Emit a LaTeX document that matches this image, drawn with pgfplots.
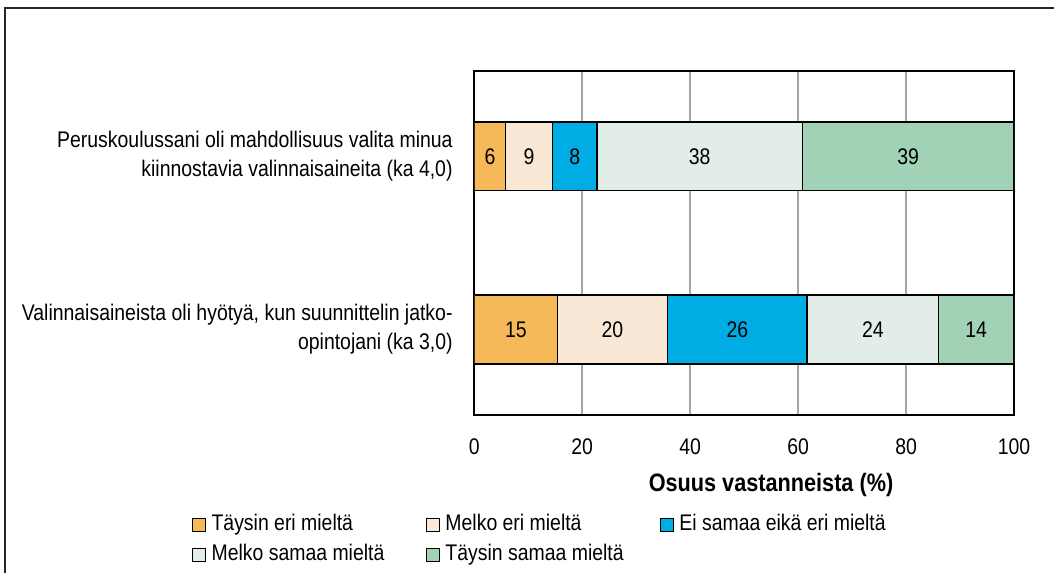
\documentclass[border=0pt]{standalone}
\usepackage{fontspec}
\setmainfont{Liberation Sans}[FakeStretch=0.86]
\usepackage{pgfplots}
\pgfplotsset{compat=1.18}
\definecolor{cOr}{RGB}{245,185,90}
\definecolor{cBe}{RGB}{248,232,213}
\definecolor{cBl}{RGB}{0,172,228}
\definecolor{cLi}{RGB}{227,237,232}
\definecolor{cGr}{RGB}{161,210,181}
\pgfplotsset{
  leg/.style={legend image code/.code={\draw[##1, draw=black, line width=0.7pt] (0pt,-3.25pt) rectangle (6.5pt,3.25pt);}},
}
\begin{document}
\begin{tikzpicture}[font=\fontsize{11.3}{14.5}\selectfont]
\path[use as bounding box] (-237.15pt,-79pt) rectangle (289.85pt,207.5pt);
\draw[line width=1.2pt, black!85] (289.85pt,203.5pt) -- (-234.65pt,203.5pt) -- (-234.65pt,-79pt);
\begin{axis}[
  at={(0pt,0pt)}, anchor=south west,
  scale only axis, width=269.85pt, height=172.15pt,
  xbar stacked, bar width=34.35pt,
  xmin=0, xmax=100, ymin=-0.494, ymax=1.494,
  xtick={0,20,40,60,80,100},
  ytick={0,1},
  yticklabels={{Valinnaisaineista oli hyötyä, kun suunnittelin jatko-\\opintojani (ka 3,0)},{Peruskoulussani oli mahdollisuus valita minua\\kiinnostavia valinnaisaineita (ka 4,0)}},
  yticklabel style={align=right, inner sep=0pt, xshift=-10.65pt, font=\fontsize{11.3}{14.5}\selectfont},
  xticklabel style={anchor=center, yshift=-15.85pt, font=\fontsize{11.3}{14.5}\selectfont},
  /pgf/number format/assume math mode=true,
  major tick length=0pt,
  xmajorgrids, grid style={color=black!35, line width=0.75pt},
  axis line style={line width=1pt},
  xlabel={Osuus vastanneista (\%)},
  xlabel style={at={(axis description cs:0.5498,-0.2033)}, anchor=center, font=\fontsize{12.6}{14}\selectfont\bfseries},
  legend columns=3,
  legend cell align=left,
  legend style={at={(axis description cs:-0.5231,-0.363)}, anchor=west, draw=none, fill=none, inner sep=0pt, outer sep=0pt, row sep=4.4pt, column sep=0pt, nodes={inner xsep=2.6pt, inner ysep=0pt, text height=8.3pt, text depth=2.3pt}, font=\fontsize{11.3}{14.5}\selectfont},
]
\addplot[fill=cOr, draw=black, line width=0.8pt, leg] coordinates {(15.4,0) (5.8,1)};
\addlegendentry{\makebox[104.55pt][l]{Täysin eri mieltä}}
\addplot[fill=cBe, draw=black, line width=0.8pt, leg] coordinates {(20.4,0) (8.7,1)};
\addlegendentry{\makebox[104.55pt][l]{Melko eri mieltä}}
\addplot[fill=cBl, draw=black, line width=0.8pt, leg] coordinates {(25.9,0) (8.2,1)};
\addlegendentry{\makebox[104.55pt][l]{Ei samaa eikä eri mieltä}}
\addplot[fill=cLi, draw=black, line width=0.8pt, leg] coordinates {(24.3,0) (38.1,1)};
\addlegendentry{\makebox[104.55pt][l]{Melko samaa mieltä}}
\addplot[fill=cGr, draw=black, line width=0.8pt, leg] coordinates {(14.0,0) (39.2,1)};
\addlegendentry{\makebox[104.55pt][l]{Täysin samaa mieltä}}
\end{axis}
\begin{axis}[
  at={(0pt,0pt)}, anchor=south west,
  scale only axis, width=269.85pt, height=172.15pt,
  xmin=0, xmax=100, ymin=-0.494, ymax=1.494,
  hide axis,
]
\addplot[draw=none, mark=none, point meta=explicit symbolic,
  nodes near coords={\pgfplotspointmeta},
  every node near coord/.style={anchor=center, inner sep=0pt, font=\fontsize{11.3}{14.5}\selectfont}]
  coordinates {(2.9,1)[6] (10.15,1)[9] (18.6,1)[8] (41.75,1)[38] (80.4,1)[39]
               (7.7,0)[15] (25.6,0)[20] (48.75,0)[26] (73.85,0)[24] (93.0,0)[14]};
\end{axis}
\end{tikzpicture}
\end{document}
